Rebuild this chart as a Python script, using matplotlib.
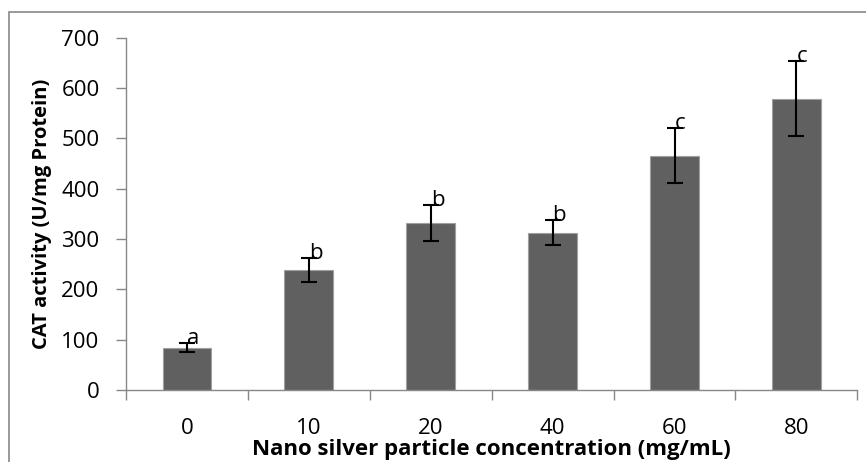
import numpy as np
import matplotlib as mpl
mpl.use('Agg')
import matplotlib.pyplot as plt

plt.rcParams['font.family'] = ['Open Sans', 'DejaVu Sans']

conc = ['0', '10', '20', '40', '60', '80']
cat = [84, 239, 332, 313, 466, 579]
err = [9, 24, 35, 25, 54, 75]
letters = ['a', 'b', 'b', 'b', 'c', 'c']

fig = plt.figure(figsize=(8.66, 4.62), dpi=100)
ax = fig.add_axes([0.1455, 0.156, 0.8445, 0.762])

x = np.arange(len(conc))
ax.bar(x, cat, width=0.4, color='#606060', edgecolor='#a0a0a0', linewidth=0.8, zorder=2)
ax.errorbar(x, cat, yerr=err, fmt='none', ecolor='black', elinewidth=1.5,
            capsize=6, capthick=1.5, zorder=3)
for xi, v, e, s in zip(x, cat, err, letters):
    ax.text(xi, v + e - 2, s, fontsize=16, ha='left', va='baseline', zorder=4)

ax.set_xlim(-0.5, len(conc) - 0.5)
ax.set_ylim(0, 700)
ax.set_yticks(range(0, 701, 100))
ax.set_xticks(x)
ax.set_xticklabels(conc)
ax.set_xticks(np.arange(-0.5, len(conc), 1), minor=True)
ax.tick_params(axis='x', which='major', length=0, labelsize=16, pad=20)
ax.tick_params(axis='x', which='minor', length=7, color='#888888', width=1, direction='out')
ax.tick_params(axis='y', length=7, color='#888888', width=1, labelsize=16, pad=12)

for side in ['top', 'right']:
    ax.spines[side].set_visible(False)
for side in ['left', 'bottom']:
    ax.spines[side].set_color('#888888')
    ax.spines[side].set_linewidth(1)

ax.set_ylabel('CAT activity (U/mg Protein)', fontsize=14.5, fontweight='bold', labelpad=7)
ax.set_xlabel('Nano silver particle concentration (mg/mL)', fontsize=16,
              fontweight='bold', labelpad=0)

# outer chart border (cut at right and bottom)
fig.patches.append(mpl.patches.Rectangle((9 / 866, -0.1), 1.2, 1.1 - 12 / 462,
                                         transform=fig.transFigure, fill=False,
                                         edgecolor='#888888', linewidth=1.2))

fig.savefig('out.png', dpi=100)
